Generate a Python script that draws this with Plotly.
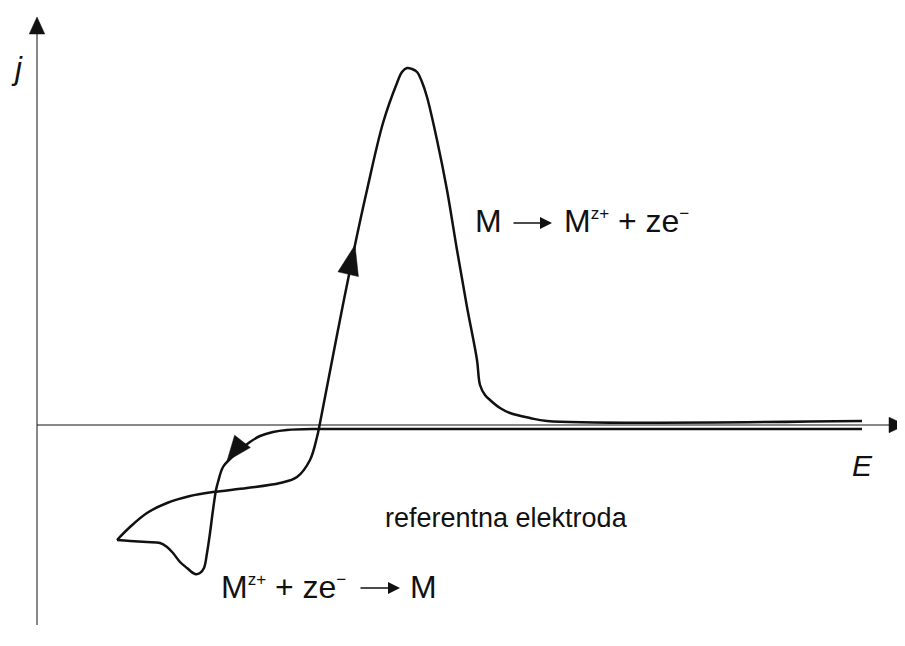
import math
import plotly.graph_objects as go

# cyclic voltammogram sketch, E on x, j on y (arbitrary units)

# anodic scan: from the left cusp, up through the oxidation peak, out to the right
E_fwd = [0.80, 0.93, 1.10, 1.30, 1.53, 1.76, 2.10, 2.43, 2.60, 2.73, 2.80, 2.83, 3.00, 3.18,
         3.30, 3.46, 3.60, 3.65, 3.70, 3.75, 3.80, 3.85, 3.90, 4.00, 4.10, 4.20, 4.30, 4.40,
         4.43, 4.48, 4.53, 4.63, 4.73, 4.93, 5.10, 8.25]
j_fwd = [-1.15, -1.02, -0.88, -0.78, -0.71, -0.67, -0.63, -0.58, -0.52, -0.35, -0.12, 0.02, 0.90, 1.80,
         2.35, 3.02, 3.42, 3.53, 3.57, 3.56, 3.53, 3.43, 3.28, 2.85, 2.35, 1.75, 1.18, 0.65,
         0.40, 0.30, 0.25, 0.17, 0.12, 0.07, 0.04, 0.04]

# reverse scan: back along the baseline, down through the reduction wave to the cusp
E_rev = [8.25, 2.80, 2.50, 2.36, 2.23, 2.13, 2.03, 1.94, 1.86, 1.81, 1.79, 1.76, 1.73, 1.70,
         1.67, 1.63, 1.58, 1.50, 1.43, 1.36, 1.30, 1.23, 1.10, 0.93, 0.80]
j_rev = [-0.04, -0.04, -0.05, -0.07, -0.11, -0.17, -0.25, -0.33, -0.42, -0.57, -0.65, -0.85, -1.08, -1.28,
         -1.43, -1.48, -1.49, -1.43, -1.37, -1.28, -1.22, -1.18, -1.17, -1.16, -1.15]

# direction arrows on the curve: (from point, tip, length, width)
arrow_from_E = [3.11, 2.05]
arrow_from_j = [1.50, -0.17]
arrow_tip_E = [3.18, 1.90]
arrow_tip_j = [1.80, -0.36]
arrow_len = [0.30, 0.25]
arrow_wid = [0.21, 0.20]

# axes (the sketch's own E and j axes)
E_axis_end = 8.69
j_axis_bottom, j_axis_top = -2.00, 4.08
axis_head_len, axis_head_wid = 0.17, 0.155

# view window
E_range = [-0.29, 8.68]
j_range = [-2.21, 4.17]

black = '#111111'
font = 'Liberation Sans, Arial, sans-serif'


def arrowhead(e0, j0, e1, j1, length, width):
    dx, dy = e1 - e0, j1 - j0
    n = math.hypot(dx, dy)
    ux, uy = dx / n, dy / n
    be, bj = e1 - ux * length, j1 - uy * length
    px, py = -uy * width / 2, ux * width / 2
    return [e1, be + px, be - px, e1], [j1, bj + py, bj - py, j1]


fig = go.Figure()

# axes
fig.add_trace(go.Scatter(x=[0, E_axis_end - axis_head_len], y=[0, 0], mode='lines',
                         line=dict(color=black, width=1), hoverinfo='skip'))
fig.add_trace(go.Scatter(x=[0, 0], y=[j_axis_bottom, j_axis_top - axis_head_len], mode='lines',
                         line=dict(color=black, width=1), hoverinfo='skip'))
for e0, j0, e1, j1 in [(0, 0, E_axis_end, 0), (0, 0, 0, j_axis_top)]:
    xs, ys = arrowhead(e0, j0, e1, j1, axis_head_len, axis_head_wid)
    fig.add_trace(go.Scatter(x=xs, y=ys, mode='lines', fill='toself', fillcolor=black,
                             line=dict(color=black, width=0.5), hoverinfo='skip', cliponaxis=False))

curve_line = dict(color=black, width=2.5, shape='spline', smoothing=1.0)
fig.add_trace(go.Scatter(x=E_fwd, y=j_fwd, mode='lines', line=curve_line, hoverinfo='skip'))
fig.add_trace(go.Scatter(x=E_rev, y=j_rev, mode='lines', line=curve_line, hoverinfo='skip'))

for e0, j0, e1, j1, L, W in zip(arrow_from_E, arrow_from_j, arrow_tip_E, arrow_tip_j, arrow_len, arrow_wid):
    xs, ys = arrowhead(e0, j0, e1, j1, L, W)
    fig.add_trace(go.Scatter(x=xs, y=ys, mode='lines', fill='toself', fillcolor=black,
                             line=dict(color=black, width=0.5), hoverinfo='skip'))

big = dict(family=font, size=32, color=black)
sup = '<sup><span style="font-size:17px">{}</span></sup>'

annotations = [
    dict(text='<i>j</i>', x=-0.20, y=3.57, font=dict(family=font, size=31, color=black)),
    dict(text='<i>E</i>', x=8.25, y=-0.40, font=dict(family=font, size=30, color=black)),
    dict(text='referentna elektroda', x=4.69, y=-0.93, font=dict(family=font, size=27, color=black)),
    # M -> M^z+ + ze-
    dict(text='M', x=4.356, y=1.84, xanchor='left', yanchor='bottom', font=big),
    dict(text='M' + sup.format('z+') + ' + ze' + sup.format('−'), x=5.246, y=1.84,
         xanchor='left', yanchor='bottom', font=big),
    # M^z+ + ze- -> M
    dict(text='M' + sup.format('z+') + ' + ze' + sup.format('−'), x=1.816, y=-1.82,
         xanchor='left', yanchor='bottom', font=big),
    dict(text='M', x=3.706, y=-1.82, xanchor='left', yanchor='bottom', font=big),
    # reaction arrows
    dict(text='', x=5.15, y=2.02, ax=4.75, ay=2.02, axref='x', ayref='y',
         showarrow=True, arrowhead=2, arrowsize=1.6, arrowwidth=1.5, arrowcolor=black),
    dict(text='', x=3.63, y=-1.63, ax=3.22, ay=-1.63, axref='x', ayref='y',
         showarrow=True, arrowhead=2, arrowsize=1.6, arrowwidth=1.5, arrowcolor=black),
]
for a in annotations:
    a.setdefault('showarrow', False)
    a.setdefault('xanchor', 'center')
    a.setdefault('yanchor', 'middle')
    fig.add_annotation(xref='x', yref='y', **a)

# the page adds an 8px body margin, so the figure is 8px smaller than the window
fig.update_layout(
    width=897, height=638,
    margin=dict(l=0, r=0, t=0, b=0, pad=0),
    paper_bgcolor='white', plot_bgcolor='white',
    showlegend=False,
    xaxis=dict(range=E_range, visible=False),
    yaxis=dict(range=j_range, visible=False),
)

fig.write_html("out.html")
